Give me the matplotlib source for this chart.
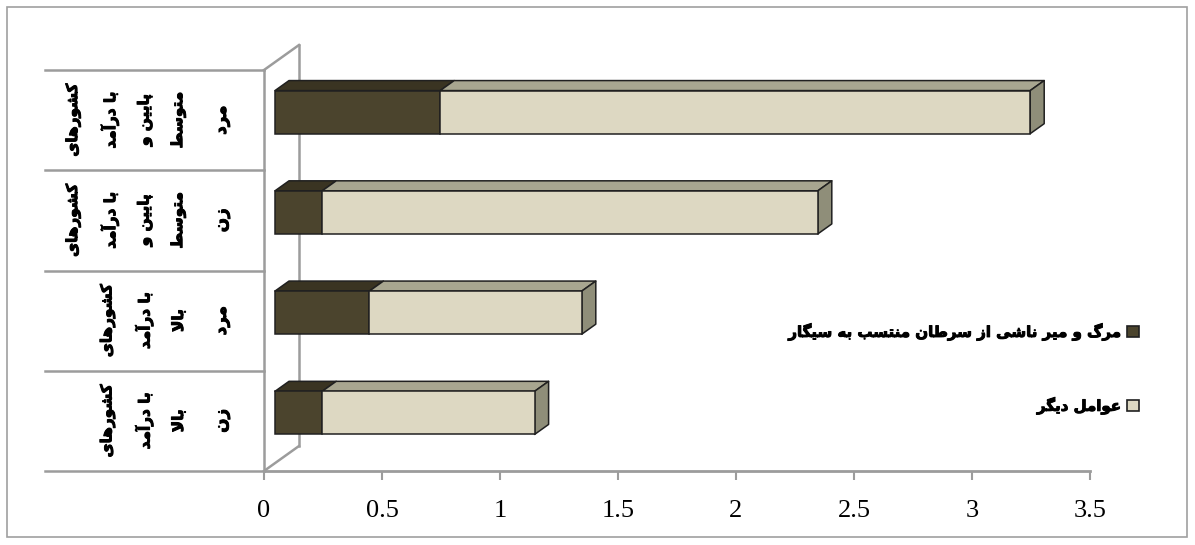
import numpy as np
import matplotlib
matplotlib.use('Agg')
import matplotlib.pyplot as plt
import matplotlib.patheffects as pe
from matplotlib.patches import Polygon, Rectangle, Patch

# data (top row first)
outer_labels = ['کشورهای\nبا درآمد\nپایین و\nمتوسط', 'کشورهای\nبا درآمد\nپایین و\nمتوسط',
                'کشورهای\nبا درآمد\nبالا', 'کشورهای\nبا درآمد\nبالا']
inner_labels = ['مرد', 'زن', 'مرد', 'زن']
smoking = [0.7, 0.2, 0.4, 0.2]
other = [2.5, 2.1, 0.9, 0.9]
series_names = ['مرگ و میر ناشی از سرطان منتسب به سیگار', 'عوامل دیگر']
xticks = [0, 0.5, 1, 1.5, 2, 2.5, 3, 3.5]
xtick_labels = ['0', '0.5', '1', '1.5', '2', '2.5', '3', '3.5']

# tiny arabic/persian shaper: (isolated, final, initial, medial)
FORMS = {
    'ا': ('\uFE8D', '\uFE8E', None, None), 'آ': ('\uFE81', '\uFE82', None, None),
    'ب': ('\uFE8F', '\uFE90', '\uFE91', '\uFE92'), 'پ': ('\uFB56', '\uFB57', '\uFB58', '\uFB59'),
    'ت': ('\uFE95', '\uFE96', '\uFE97', '\uFE98'), 'د': ('\uFEA9', '\uFEAA', None, None),
    'ر': ('\uFEAD', '\uFEAE', None, None), 'ز': ('\uFEAF', '\uFEB0', None, None),
    'س': ('\uFEB1', '\uFEB2', '\uFEB3', '\uFEB4'), 'ش': ('\uFEB5', '\uFEB6', '\uFEB7', '\uFEB8'),
    'ط': ('\uFEC1', '\uFEC2', '\uFEC3', '\uFEC4'), 'ع': ('\uFEC9', '\uFECA', '\uFECB', '\uFECC'),
    'ک': ('\uFB8E', '\uFB8F', '\uFB90', '\uFB91'), 'گ': ('\uFB92', '\uFB93', '\uFB94', '\uFB95'),
    'ل': ('\uFEDD', '\uFEDE', '\uFEDF', '\uFEE0'), 'م': ('\uFEE1', '\uFEE2', '\uFEE3', '\uFEE4'),
    'ن': ('\uFEE5', '\uFEE6', '\uFEE7', '\uFEE8'), 'ه': ('\uFEE9', '\uFEEA', '\uFEEB', '\uFEEC'),
    'و': ('\uFEED', '\uFEEE', None, None), 'ی': ('\uFBFC', '\uFBFD', '\uFBFE', '\uFBFF'),
}


def shape_line(s):
    out = []
    i = 0
    while i < len(s):
        c = s[i]
        if c not in FORMS:
            out.append(c)
            i += 1
            continue
        prev = s[i - 1] if i > 0 else ''
        prev_joins = prev in FORMS and FORMS[prev][2] is not None
        nxt = s[i + 1] if i + 1 < len(s) else ''
        if c == 'ل' and nxt == 'ا':
            out.append('\uFEFC' if prev_joins else '\uFEFB')
            i += 2
            continue
        next_joins = FORMS[c][2] is not None and nxt in FORMS
        iso, fin, ini, med = FORMS[c]
        if prev_joins and next_joins:
            out.append(med)
        elif prev_joins:
            out.append(fin)
        elif next_joins:
            out.append(ini)
        else:
            out.append(iso)
        i += 1
    return ''.join(out)[::-1]


def fa(s):
    return '\n'.join(shape_line(l) for l in s.split('\n'))


DPI = 100
fig = plt.figure(figsize=(11.95, 5.45), dpi=DPI)
fig.patches.append(Rectangle((7 / 1195, 8 / 545), 1180 / 1195, 530 / 545, transform=fig.transFigure,
                             fill=False, edgecolor='#a0a0a0', lw=1.2))

ax = fig.add_axes([264 / 1195, (545 - 471) / 545, 826 / 1195, 401 / 545])
ax.set_xlim(0, 3.5)
ax.set_ylim(0, 4)
fig.canvas.draw()
bb = ax.get_window_extent()
ppx = bb.width / 3.5   # pixels per x unit
ppy = bb.height / 4    # pixels per y unit

dark_front, dark_top = '#4b442d', '#3a3422'
light_front, light_top = '#ddd8c2', '#a8a690'
side = '#8f8e79'
edge = '#202020'
bold = [pe.withStroke(linewidth=0.7, foreground='black')]

# back wall
wx, wy = 35 / ppx, 25 / ppy
wall = '#9c9c9c'
ax.plot([0, wx], [4, 4 + wy], color=wall, lw=1.8, clip_on=False, zorder=2)
ax.plot([wx, wx], [wy, 4 + wy], color=wall, lw=1.8, clip_on=False, zorder=2)
ax.plot([0, wx], [0, wy], color=wall, lw=1.8, clip_on=False, zorder=2)
ax.plot([0, 0], [0, 4], color=wall, lw=1.8, clip_on=False, zorder=2)

# bars
ys = [3.5, 2.5, 1.5, 0.5]
h = 0.215
d1x, d1y = 11 / ppx, 8 / ppy
d2x, d2y = 25 / ppx, 18 / ppy
for y, s, o in zip(ys, smoking, other):
    segs = [(0, s, dark_front, dark_top), (s, s + o, light_front, light_top)]
    for x0, x1, fc, tc in segs:
        top = [(x0 + d1x, y + h + d1y), (x1 + d1x, y + h + d1y),
               (x1 + d2x, y + h + d2y), (x0 + d2x, y + h + d2y)]
        ax.add_patch(Polygon(top, closed=True, facecolor=tc, edgecolor=edge, lw=1.1,
                             clip_on=False, zorder=3, joinstyle='round'))
        ax.add_patch(Rectangle((x0 + d1x, y - h + d1y), x1 - x0, 2 * h, facecolor=fc,
                               edgecolor=edge, lw=1.1, clip_on=False, zorder=4))
    xe = s + o
    right = [(xe + d1x, y - h + d1y), (xe + d1x, y + h + d1y),
             (xe + d2x, y + h + d2y), (xe + d2x, y - h + d2y)]
    ax.add_patch(Polygon(right, closed=True, facecolor=side, edgecolor=edge, lw=1.1,
                         clip_on=False, zorder=3, joinstyle='round'))

# category label grid
trans = ax.get_yaxis_transform()
xl = -(264 - 45) / 826
for b in [0, 1, 2, 3, 4]:
    ax.plot([xl, 0], [b, b], color=wall, lw=1.8, transform=trans, clip_on=False)

ar_font = 'DejaVu Sans'
for y, ol, il in zip(ys, outer_labels, inner_labels):
    ax.text(-(264 - 186) / 826, y, fa(ol), transform=trans, rotation=90, ha='right', va='center',
            multialignment='center', family=ar_font, weight='bold', fontsize=11, linespacing=2.45,
            path_effects=bold)
    ax.text(-(264 - 221) / 826, y, fa(il), transform=trans, rotation=90, ha='center', va='center',
            family=ar_font, weight='bold', fontsize=12, path_effects=bold)

# axes styling
for sp in ['top', 'right', 'left']:
    ax.spines[sp].set_visible(False)
ax.spines['bottom'].set_color(wall)
ax.spines['bottom'].set_linewidth(2)
ax.set_yticks([])
ax.set_xticks(xticks)
ax.set_xticklabels(xtick_labels, family='Liberation Serif', fontsize=19)
ax.tick_params(axis='x', colors=wall, labelcolor='black', length=6.5, width=1.5, pad=14.5)

handles = [Patch(facecolor=dark_front, edgecolor=edge, lw=1.2),
           Patch(facecolor=light_front, edgecolor=edge, lw=1.2)]
leg = fig.legend(handles, [fa(n) for n in series_names], loc='center right',
                 bbox_to_anchor=(1152 / 1195, (545 - 369) / 545), frameon=False, markerfirst=False,
                 prop={'family': ar_font, 'weight': 'bold', 'size': 10.8},
                 handlelength=0.75, handleheight=0.75, handletextpad=0.4, labelspacing=3.75)
for t in leg.get_texts():
    t.set_path_effects(bold)

fig.savefig('out.png', dpi=DPI)
